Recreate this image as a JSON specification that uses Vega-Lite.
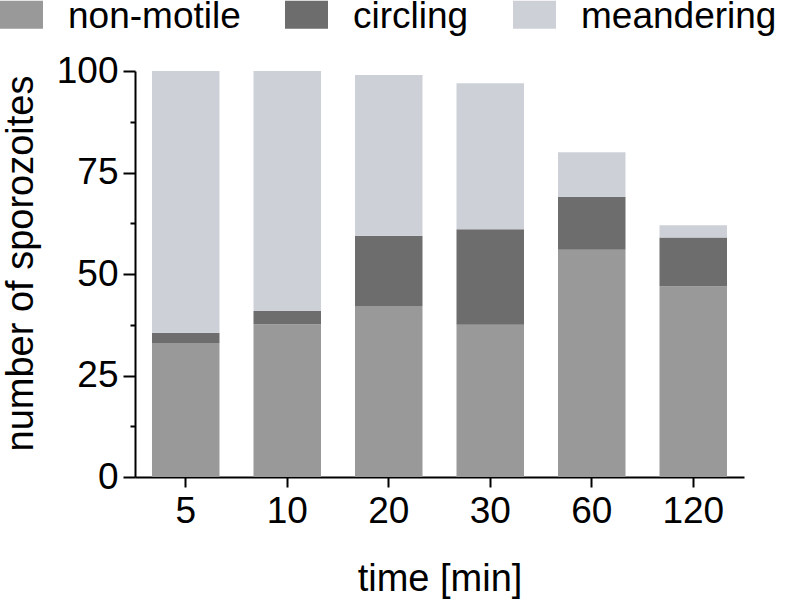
{
  "$schema": "https://vega.github.io/schema/vega-lite/v6.json",
  "autosize": {"type": "none"},
  "width": 609,
  "height": 406,
  "padding": {"left": 135, "top": 71, "right": 41, "bottom": 124},
  "background": "white",
  "config": {
    "view": {"stroke": null},
    "font": "Liberation Sans",
    "axis": {
      "labelFont": "Liberation Sans",
      "titleFont": "Liberation Sans",
      "labelColor": "black",
      "titleColor": "black",
      "domainColor": "black",
      "tickColor": "black",
      "domainWidth": 2,
      "tickWidth": 2,
      "grid": false,
      "labelFontSize": 37,
      "titleFontSize": 38,
      "titleFontWeight": "normal"
    },
    "legend": {
      "labelFont": "Liberation Sans",
      "labelFontSize": 37,
      "labelColor": "black",
      "labelLimit": 0
    }
  },
  "data": {
    "values": [
      {"time": "5", "type": "non-motile", "count": 33.0, "k": 1},
      {"time": "5", "type": "circling", "count": 2.5, "k": 2},
      {"time": "5", "type": "meandering", "count": 64.5, "k": 3},
      {"time": "10", "type": "non-motile", "count": 37.6, "k": 1},
      {"time": "10", "type": "circling", "count": 3.3, "k": 2},
      {"time": "10", "type": "meandering", "count": 59.1, "k": 3},
      {"time": "20", "type": "non-motile", "count": 42.1, "k": 1},
      {"time": "20", "type": "circling", "count": 17.3, "k": 2},
      {"time": "20", "type": "meandering", "count": 39.6, "k": 3},
      {"time": "30", "type": "non-motile", "count": 37.5, "k": 1},
      {"time": "30", "type": "circling", "count": 23.5, "k": 2},
      {"time": "30", "type": "meandering", "count": 36.0, "k": 3},
      {"time": "60", "type": "non-motile", "count": 56.0, "k": 1},
      {"time": "60", "type": "circling", "count": 13.0, "k": 2},
      {"time": "60", "type": "meandering", "count": 11.0, "k": 3},
      {"time": "120", "type": "non-motile", "count": 47.0, "k": 1},
      {"time": "120", "type": "circling", "count": 12.0, "k": 2},
      {"time": "120", "type": "meandering", "count": 3.0, "k": 3}
    ]
  },
  "mark": {"type": "bar"},
  "encoding": {
    "x": {
      "field": "time",
      "type": "ordinal",
      "sort": ["5", "10", "20", "30", "60", "120"],
      "scale": {"paddingInner": 0.335, "paddingOuter": 0.1675},
      "axis": {
        "title": "time [min]",
        "labelAngle": 0,
        "tickSize": 10,
        "labelPadding": 6,
        "titleBaseline": "alphabetic",
        "titleY": 113
      }
    },
    "y": {
      "field": "count",
      "type": "quantitative",
      "stack": "zero",
      "scale": {"domain": [0, 100], "nice": false},
      "axis": {
        "title": "number of sporozoites",
        "values": [0, 12.5, 25, 37.5, 50, 62.5, 75, 87.5, 100],
        "labelExpr": "datum.value % 25 === 0 ? datum.label : ''",
        "tickSize": {"condition": {"test": "datum.value % 25 === 0", "value": 12}, "value": 5},
        "labelPadding": 5,
        "titleAngle": -90,
        "titleAlign": "center",
        "titleBaseline": "alphabetic",
        "titleX": -103,
        "titleY": 192
      }
    },
    "color": {
      "field": "type",
      "type": "nominal",
      "scale": {
        "domain": ["non-motile", "circling", "meandering"],
        "range": ["#999999", "#6d6d6d", "#cdd0d7"]
      },
      "legend": {
        "title": null,
        "orient": "none",
        "direction": "horizontal",
        "legendX": -135,
        "legendY": -76,
        "padding": 0,
        "symbolType": "M-1,-0.744H1V0.558H-1Z",
        "symbolSize": 1849,
        "symbolStrokeWidth": 0,
        "symbolOpacity": 1,
        "labelOffset": 25,
        "columnPadding": 44,
        "labelBaseline": "middle",
        "labelLimit": 0
      }
    },
    "order": {"field": "k", "type": "quantitative"}
  }
}
